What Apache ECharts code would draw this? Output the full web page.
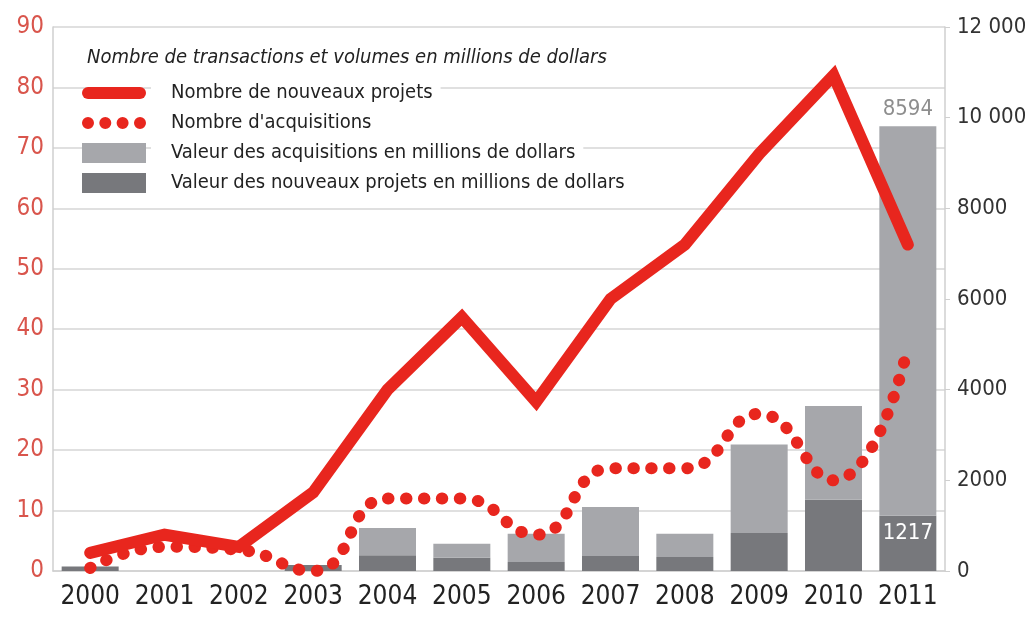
<!DOCTYPE html>
<html>
<head>
<meta charset="utf-8">
<script src="https://cdn.jsdelivr.net/npm/echarts@6/dist/echarts.min.js"></script>
<style>
  html, body { margin: 0; padding: 0; background: #fff; }
  #main { width: 1034px; height: 629px; }
</style>
</head>
<body>
<div id="main"></div>
<script>
const years = ['2000','2001','2002','2003','2004','2005','2006','2007','2008','2009','2010','2011'];
const nbNouveauxProjets = [3, 6, 4, 13, 30, 42, 28, 45, 54, 69, 82, 54];
const nbAcquisitions = [0.5, 4, 3.5, 0, 12, 12, 6, 17, 17, 26, 15, 37];
const valeurAcquisitions = [0, 0, 0, 0, 600, 310, 620, 1080, 510, 1950, 2070, 8594];
const valeurNouveauxProjets = [100, 0, 0, 130, 350, 290, 200, 330, 310, 840, 1570, 1217];
const leftTicks = [0, 10, 20, 30, 40, 50, 60, 70, 80, 90];
const rightTicks = ['0', '2000', '4000', '6000', '8000', '10 000', '12 000'];

const FONT = "'DejaVu Sans Condensed', 'Liberation Sans Narrow', sans-serif";
const RED = '#e8261e';
const LIGHT = '#a6a7ab';
const DARK = '#77787c';

const lastIdx = years.length - 1;
const acqData = valeurAcquisitions.map((v, i) => i === lastIdx
  ? { value: v, label: { show: true, position: 'top', color: '#8e8e8e', fontSize: 22, fontFamily: FONT, distance: 6 } }
  : v);
const projData = valeurNouveauxProjets.map((v, i) => i === lastIdx
  ? { value: v, label: { show: true, position: 'insideTop', color: '#fff', fontSize: 22, fontFamily: FONT, distance: 6 } }
  : v);

const chart = echarts.init(document.getElementById('main'), null, { renderer: 'canvas' });
chart.setOption({
  animation: false,
  backgroundColor: '#fff',
  title: {
    text: 'Nombre de transactions et volumes en millions de dollars',
    left: 82, top: 43,
    textStyle: { fontFamily: FONT, fontStyle: 'italic', fontWeight: 'normal', fontSize: 20, color: '#222' }
  },
  legend: {
    orient: 'vertical',
    left: 82, top: 82,
    itemWidth: 64, itemHeight: 20,
    itemGap: 8,
    padding: 0,
    textStyle: { fontFamily: FONT, fontSize: 20, color: '#222', backgroundColor: '#fff', padding: [1, 8, 1, 20] },
    data: [
      { name: 'Nombre de nouveaux projets', icon: 'path://M6,0H58A6,6 0 0 1 58,12H6A6,6 0 0 1 6,0Z', itemStyle: { color: RED } },
      { name: "Nombre d'acquisitions", icon: 'path://M0,6a6,6 0 1,0 12,0a6,6 0 1,0 -12,0ZM17.3,6a6,6 0 1,0 12,0a6,6 0 1,0 -12,0ZM34.6,6a6,6 0 1,0 12,0a6,6 0 1,0 -12,0ZM52,6a6,6 0 1,0 12,0a6,6 0 1,0 -12,0Z', itemStyle: { color: RED } },
      { name: 'Valeur des acquisitions en millions de dollars', icon: 'rect', itemStyle: { color: LIGHT } },
      { name: 'Valeur des nouveaux projets en millions de dollars', icon: 'rect', itemStyle: { color: DARK } }
    ]
  },
  grid: { left: 53, right: 89, top: 27, bottom: 58, containLabel: false },
  xAxis: {
    type: 'category',
    data: years,
    axisLine: { lineStyle: { color: '#cfcfcf', width: 1.5 } },
    axisTick: { show: false },
    axisLabel: { color: '#222', fontSize: 26, fontFamily: FONT, margin: 13, interval: 0 }
  },
  yAxis: [
    {
      type: 'value', min: 0, max: 90, interval: 10,
      axisLine: { show: true, lineStyle: { color: '#cfcfcf', width: 1.5 } },
      axisTick: { show: false },
      splitLine: { lineStyle: { color: '#d6d6d6', width: 1.5 } },
      axisLabel: { color: '#d9554c', fontSize: 24, fontFamily: FONT, margin: 9,
        formatter: v => leftTicks.indexOf(v) >= 0 ? String(v) : '' }
    },
    {
      type: 'value', min: 0, max: 12000, interval: 2000,
      axisLine: { show: true, lineStyle: { color: '#cfcfcf', width: 1.5 } },
      axisTick: { show: true, length: 5, lineStyle: { color: '#cfcfcf' } },
      splitLine: { show: false },
      axisLabel: { color: '#333', fontSize: 22, fontFamily: FONT, margin: 12,
        formatter: v => rightTicks[Math.round(v / 2000)] }
    }
  ],
  series: [
    {
      name: 'Valeur des nouveaux projets en millions de dollars',
      type: 'bar', yAxisIndex: 1, stack: 'val',
      barWidth: 57,
      itemStyle: { color: DARK },
      data: projData, z: 2
    },
    {
      name: 'Valeur des acquisitions en millions de dollars',
      type: 'bar', yAxisIndex: 1, stack: 'val',
      barWidth: 57,
      itemStyle: { color: LIGHT },
      data: acqData, z: 2
    },
    {
      name: "Nombre d'acquisitions",
      type: 'line', yAxisIndex: 0,
      smooth: 0.5,
      symbol: 'none',
      lineStyle: { color: RED, width: 12, type: [0.5, 17.5], cap: 'round' },
      itemStyle: { color: RED },
      data: nbAcquisitions, z: 4
    },
    {
      name: 'Nombre de nouveaux projets',
      type: 'line', yAxisIndex: 0,
      symbol: 'none',
      lineStyle: { color: RED, width: 12, cap: 'round', join: 'miter' },
      itemStyle: { color: RED },
      data: nbNouveauxProjets, z: 5
    }
  ]
});
</script>
</body>
</html>
